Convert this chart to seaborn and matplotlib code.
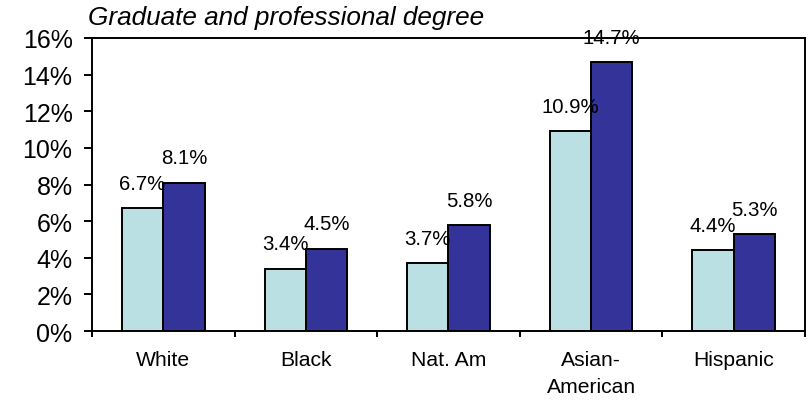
import pandas as pd
import matplotlib.pyplot as plt
import seaborn as sns
from matplotlib.ticker import FuncFormatter, FixedLocator

# --- Data ---
groups = ['White', 'Black', 'Nat. Am', 'Asian-\nAmerican', 'Hispanic']
series_names = ['Earlier', 'Later']
earlier = [6.7, 3.4, 3.7, 10.9, 4.4]
later = [8.1, 4.5, 5.8, 14.7, 5.3]

df = pd.DataFrame({
    'group': groups * 2,
    'series': [series_names[0]] * len(groups) + [series_names[1]] * len(groups),
    'value': earlier + later,
})

# --- Style ---
sns.set_theme(style="white")
plt.rcParams['font.family'] = ['Liberation Sans', 'DejaVu Sans']
plt.rcParams['text.color'] = 'black'
plt.rcParams['xtick.color'] = 'black'
plt.rcParams['ytick.color'] = 'black'

fig = plt.figure(figsize=(8.12, 4.02), dpi=100)
ax = fig.add_axes([0.1133, 0.174, 0.878, 0.729])

sns.barplot(data=df, x='group', y='value', hue='series', order=groups,
            hue_order=series_names, palette=['#BBE0E3', '#333399'],
            saturation=1, width=0.58, gap=0, edgecolor='black', linewidth=1.4,
            errorbar=None, legend=False, ax=ax)

for cont in ax.containers:
    ax.bar_label(cont, fmt='%.1f%%', padding=11, fontsize=14.7)

ax.set_ylim(0, 16)
ax.set_xlim(-0.5, len(groups) - 0.5)
ax.set_yticks(range(0, 17, 2))
ax.yaxis.set_major_formatter(FuncFormatter(lambda v, p: f'{int(v)}%'))
ax.tick_params(axis='y', which='major', direction='out', length=6, width=1.4,
               left=True, labelsize=18, pad=8)
ax.tick_params(axis='x', which='major', length=0, labelsize=15.2, pad=14)
for lbl in ax.get_xticklabels():
    lbl.set_linespacing(1.5)
ax.xaxis.set_minor_locator(FixedLocator([i - 0.5 for i in range(len(groups) + 1)]))
ax.tick_params(axis='x', which='minor', direction='out', length=4.5, width=1.4,
               bottom=True)

for s in ax.spines.values():
    s.set_visible(True)
    s.set_color('black')
    s.set_linewidth(1.4)

ax.set_xlabel('')
ax.set_ylabel('')
fig.text(0.108, 0.955, 'Graduate and professional degree', fontsize=18.8,
         style='italic', va='center', ha='left')

plt.savefig('out.png', dpi=100)
